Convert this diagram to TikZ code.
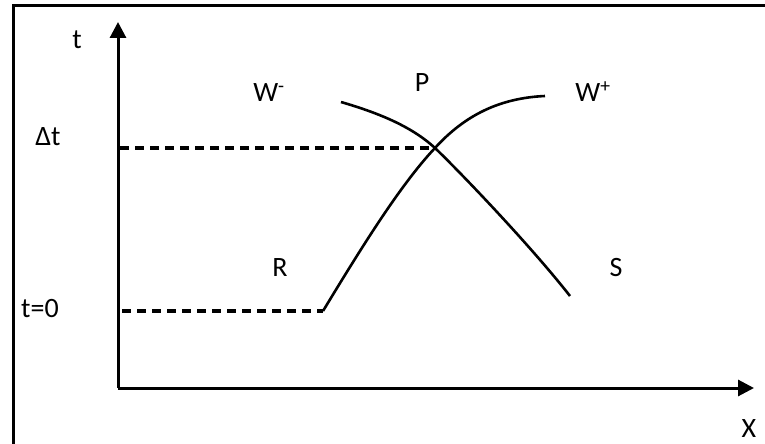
\documentclass[tikz,border=0pt]{standalone}
\usepackage{fontspec}
\setmainfont{Carlito}
\usetikzlibrary{arrows.meta}
\begin{document}
\begin{tikzpicture}[x=1pt,y=-1pt,
  axis/.style={line width=3pt,-{Triangle[length=16pt,width=16pt]}},
  frameline/.style={line width=3pt},
  curve/.style={line width=2.6pt},
  guide/.style={line width=3.4pt,dash pattern=on 9pt off 6pt},
  lbl/.style={font=\fontsize{28}{30}\selectfont,inner sep=0pt}]
\useasboundingbox (0,0) rectangle (765,444);
\draw[frameline] (13,444) -- (13,6) -- (765,6);
\coordinate (O) at (118,388);
\coordinate (Ytip) at (118,22);
\coordinate (Xtip) at (754,388);
\draw[axis] (O) -- (Ytip);
\draw[axis] (O) -- (Xtip);
\coordinate (P) at (435,148);
\coordinate (R0) at (323,311);
\coordinate (Wp) at (545,96);
\coordinate (Wm) at (341,102);
\coordinate (S0) at (570,296);
\draw[guide] (120,148) -- (P);
\draw[guide] (122,311) -- (R0);
\draw[curve] (R0) .. controls (360,250) and (400,185) .. (P)
  .. controls (465,115) and (500,98) .. (Wp);
\draw[curve] (Wm) .. controls (375,112) and (410,125) .. (P)
  .. controls (460,172) and (530,245) .. (S0);
\node[lbl] (lt) at (77,40) {t};
\node[lbl] (ldt) at (48,137) {Δt};
\node[lbl] (lt0) at (40,309) {t=0};
\node[lbl] (lwm) at (269,93) {W\textsuperscript{-}};
\node[lbl] (lp) at (422,83) {P};
\node[lbl] (lwp) at (593,92) {W\textsuperscript{+}};
\node[lbl] (lr) at (280,268) {R};
\node[lbl] (ls) at (616,268) {S};
\node[lbl] (lx) at (749,429) {X};
\end{tikzpicture}
\end{document}
